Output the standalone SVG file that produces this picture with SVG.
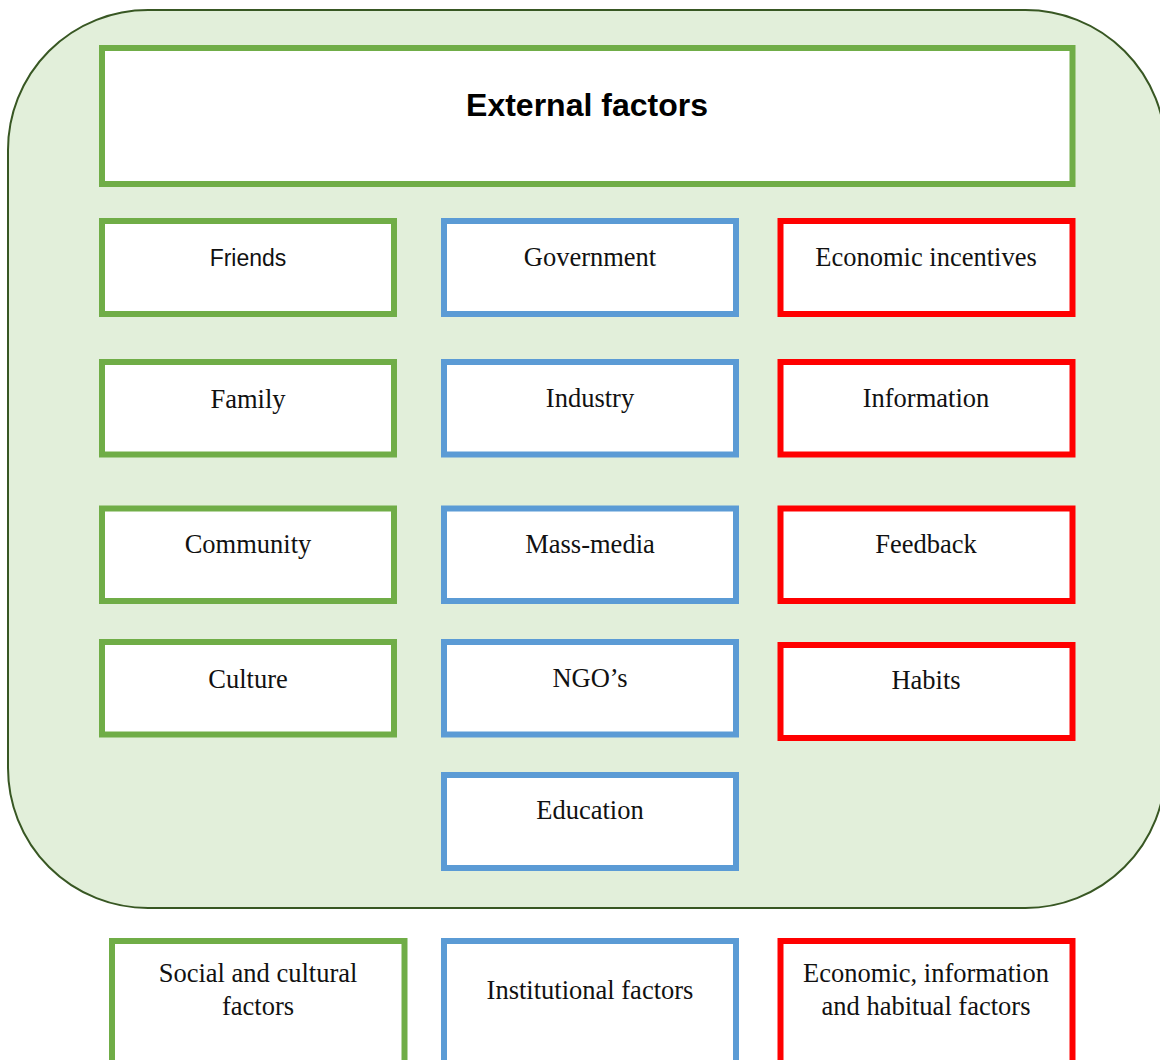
<svg xmlns="http://www.w3.org/2000/svg" width="1160" height="1060" viewBox="0 0 1160 1060">
  <style>
    .box { fill: #ffffff; stroke-width: 6; }
    .soc { stroke: #70AD47; }
    .inst { stroke: #5B9BD5; }
    .eco { stroke: #FF0000; }
    .lbl { font-family: "Liberation Serif", "Times New Roman", serif; font-size: 26.5px; fill: #111111; text-anchor: middle; }
    .sans { font-family: "Liberation Sans", Arial, sans-serif; font-size: 23px; fill: #111111; text-anchor: middle; }
    .title { font-family: "Liberation Sans", Arial, sans-serif; font-size: 32px; font-weight: bold; fill: #000000; text-anchor: middle; }
  </style>
  <rect width="1160" height="1060" fill="#ffffff"/>

  <!-- container of external factors -->
  <rect id="container" x="8" y="10" width="1157.5" height="898" rx="140" ry="140" fill="#E2EFDA" stroke="#385723" stroke-width="2"/>

  <g id="title">
    <rect class="box soc" x="102" y="48" width="970.5" height="136"/>
    <text class="title" x="587" y="116">External factors</text>
  </g>

  <!-- social and cultural column -->
  <g id="friends">
    <rect class="box soc" x="102" y="221" width="292" height="93"/>
    <text class="sans" x="248" y="266">Friends</text>
  </g>
  <g id="family">
    <rect class="box soc" x="102" y="362" width="292" height="92.5"/>
    <text class="lbl" x="248" y="408">Family</text>
  </g>
  <g id="community">
    <rect class="box soc" x="102" y="508.5" width="292" height="92.5"/>
    <text class="lbl" x="248" y="553">Community</text>
  </g>
  <g id="culture">
    <rect class="box soc" x="102" y="642" width="292" height="92.5"/>
    <text class="lbl" x="248" y="687.5">Culture</text>
  </g>

  <!-- institutional column -->
  <g id="government">
    <rect class="box inst" x="444" y="221" width="292" height="93"/>
    <text class="lbl" x="590" y="266">Government</text>
  </g>
  <g id="industry">
    <rect class="box inst" x="444" y="362" width="292" height="92.5"/>
    <text class="lbl" x="590" y="407">Industry</text>
  </g>
  <g id="mass-media">
    <rect class="box inst" x="444" y="508.5" width="292" height="92.5"/>
    <text class="lbl" x="590" y="552.5">Mass-media</text>
  </g>
  <g id="ngos">
    <rect class="box inst" x="444" y="642" width="292" height="92.5"/>
    <text class="lbl" x="590" y="687">NGO’s</text>
  </g>
  <g id="education">
    <rect class="box inst" x="444" y="775" width="292" height="93"/>
    <text class="lbl" x="590" y="819">Education</text>
  </g>

  <!-- economic, information and habitual column -->
  <g id="economic-incentives">
    <rect class="box eco" x="780.5" y="221" width="292" height="93"/>
    <text class="lbl" x="926" y="266">Economic incentives</text>
  </g>
  <g id="information">
    <rect class="box eco" x="780.5" y="362" width="292" height="92.5"/>
    <text class="lbl" x="926" y="406.5">Information</text>
  </g>
  <g id="feedback">
    <rect class="box eco" x="780.5" y="508.5" width="292" height="92.5"/>
    <text class="lbl" x="926" y="552.5">Feedback</text>
  </g>
  <g id="habits">
    <rect class="box eco" x="780.5" y="645" width="292" height="93"/>
    <text class="lbl" x="926" y="688.5">Habits</text>
  </g>

  <!-- legend row -->
  <g id="legend-social">
    <rect class="box soc" x="112" y="941" width="292.5" height="150"/>
    <text class="lbl" x="258" y="982">Social and cultural</text>
    <text class="lbl" x="258" y="1015">factors</text>
  </g>
  <g id="legend-institutional">
    <rect class="box inst" x="444" y="941" width="292" height="150"/>
    <text class="lbl" x="590" y="998.5">Institutional factors</text>
  </g>
  <g id="legend-economic">
    <rect class="box eco" x="780.5" y="941" width="292" height="150"/>
    <text class="lbl" x="926" y="982">Economic, information</text>
    <text class="lbl" x="926" y="1015">and habitual factors</text>
  </g>

  <g id="connectors"/>
</svg>
